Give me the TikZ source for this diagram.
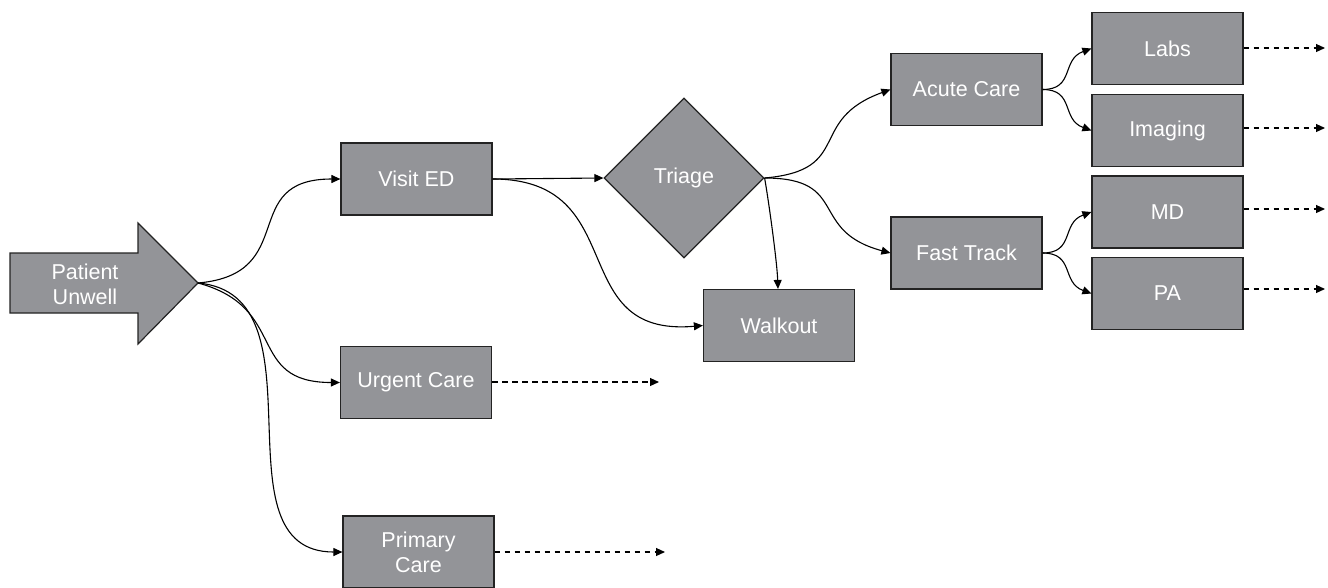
\documentclass[tikz,border=0pt]{standalone}
\usepackage{fontspec}
\setmainfont{Liberation Sans}
\usetikzlibrary{arrows.meta,shapes.geometric}
\definecolor{boxgray}{RGB}{147,148,152}
\definecolor{edgegray}{RGB}{35,35,35}
\begin{document}
\begin{tikzpicture}[x=1pt,y=-1pt,
  font=\fontsize{21.5}{25}\selectfont,
  stepbox/.style={draw=edgegray,line width=1.2pt,fill=boxgray,text=white,
    minimum width=151pt,minimum height=72pt,inner sep=0pt,align=center},
  decide/.style={draw=edgegray,line width=1.2pt,fill=boxgray,text=white,
    diamond,minimum width=160pt,minimum height=160pt,inner sep=0pt},
  link/.style={line width=1.1pt,-{Triangle[length=9pt,width=8pt]}},
  onward/.style={line width=1.1pt,dash pattern=on 5.5pt off 4.5pt,-{Triangle[length=9pt,width=8pt]}}]
\useasboundingbox (0,0) rectangle (1328,587);

% entry arrow
\filldraw[draw=edgegray,line width=1.2pt,fill=boxgray]
  (10,253) -- (138,253) -- (138,223) -- (198,283) -- (138,344) -- (138,313) -- (10,313) -- cycle;
\node[text=white,align=center,font=\fontsize{21.5}{25}\selectfont] (pu) at (85,284) {Patient\\Unwell};
\coordinate (putip) at (198,283);

% boxes
\node[stepbox] (ed) at (416.5,179) {Visit ED};
\node[decide] (tri) at (684,178) {Triage};
\node[stepbox] (walk) at (779,325.5) {Walkout};
\node[stepbox] (uc) at (416,382.5) {Urgent Care};
\node[stepbox] (pc) at (418.5,552) {Primary\\Care};
\node[stepbox] (ac) at (966.5,89.5) {Acute Care};
\node[stepbox] (ft) at (966.5,253) {Fast Track};
\node[stepbox] (labs) at (1167.5,48.5) {Labs};
\node[stepbox] (img) at (1167.5,130.5) {Imaging};
\node[stepbox] (md) at (1167.5,212) {MD};
\node[stepbox] (pa) at (1167.5,293.5) {PA};

% onward destinations
\coordinate (ucend) at (659,382);
\coordinate (pcend) at (665,552);
\coordinate (labsend) at (1325,48);
\coordinate (imgend) at (1325,128);
\coordinate (mdend) at (1325,209);
\coordinate (paend) at (1325,289);

% connectors
\draw[link] (putip) to[out=5,in=180,looseness=1.5] (ed.west);
\draw[link] (putip) to[out=-15,in=180,looseness=1.4] (uc.west);
\draw[link] (putip) to[out=-5,in=180,looseness=1.1] (pc.west);
\draw[link] (ed.east) -- (tri.west);
\draw[link] (ed.east) to[out=0,in=185,looseness=1.4] (walk.west);
\draw[link] (tri.east) to[out=-80,in=92,looseness=0.6] ([xshift=-1pt]walk.north);
\draw[link] (tri.east) to[out=5,in=200,looseness=1.5] (ac.west);
\draw[link] (tri.east) to[out=0,in=165,looseness=1.5] (ft.west);
\draw[link] (ac.east) to[out=0,in=200,looseness=1.3] (labs.west);
\draw[link] (ac.east) to[out=0,in=160,looseness=1.3] (img.west);
\draw[link] (ft.east) to[out=0,in=200,looseness=1.3] (md.west);
\draw[link] (ft.east) to[out=0,in=160,looseness=1.3] (pa.west);

\draw[onward] (uc.east |- ucend) -- (ucend);
\draw[onward] (pc.east |- pcend) -- (pcend);
\draw[onward] (labs.east |- labsend) -- (labsend);
\draw[onward] (img.east |- imgend) -- (imgend);
\draw[onward] (md.east |- mdend) -- (mdend);
\draw[onward] (pa.east |- paend) -- (paend);
\end{tikzpicture}
\end{document}
